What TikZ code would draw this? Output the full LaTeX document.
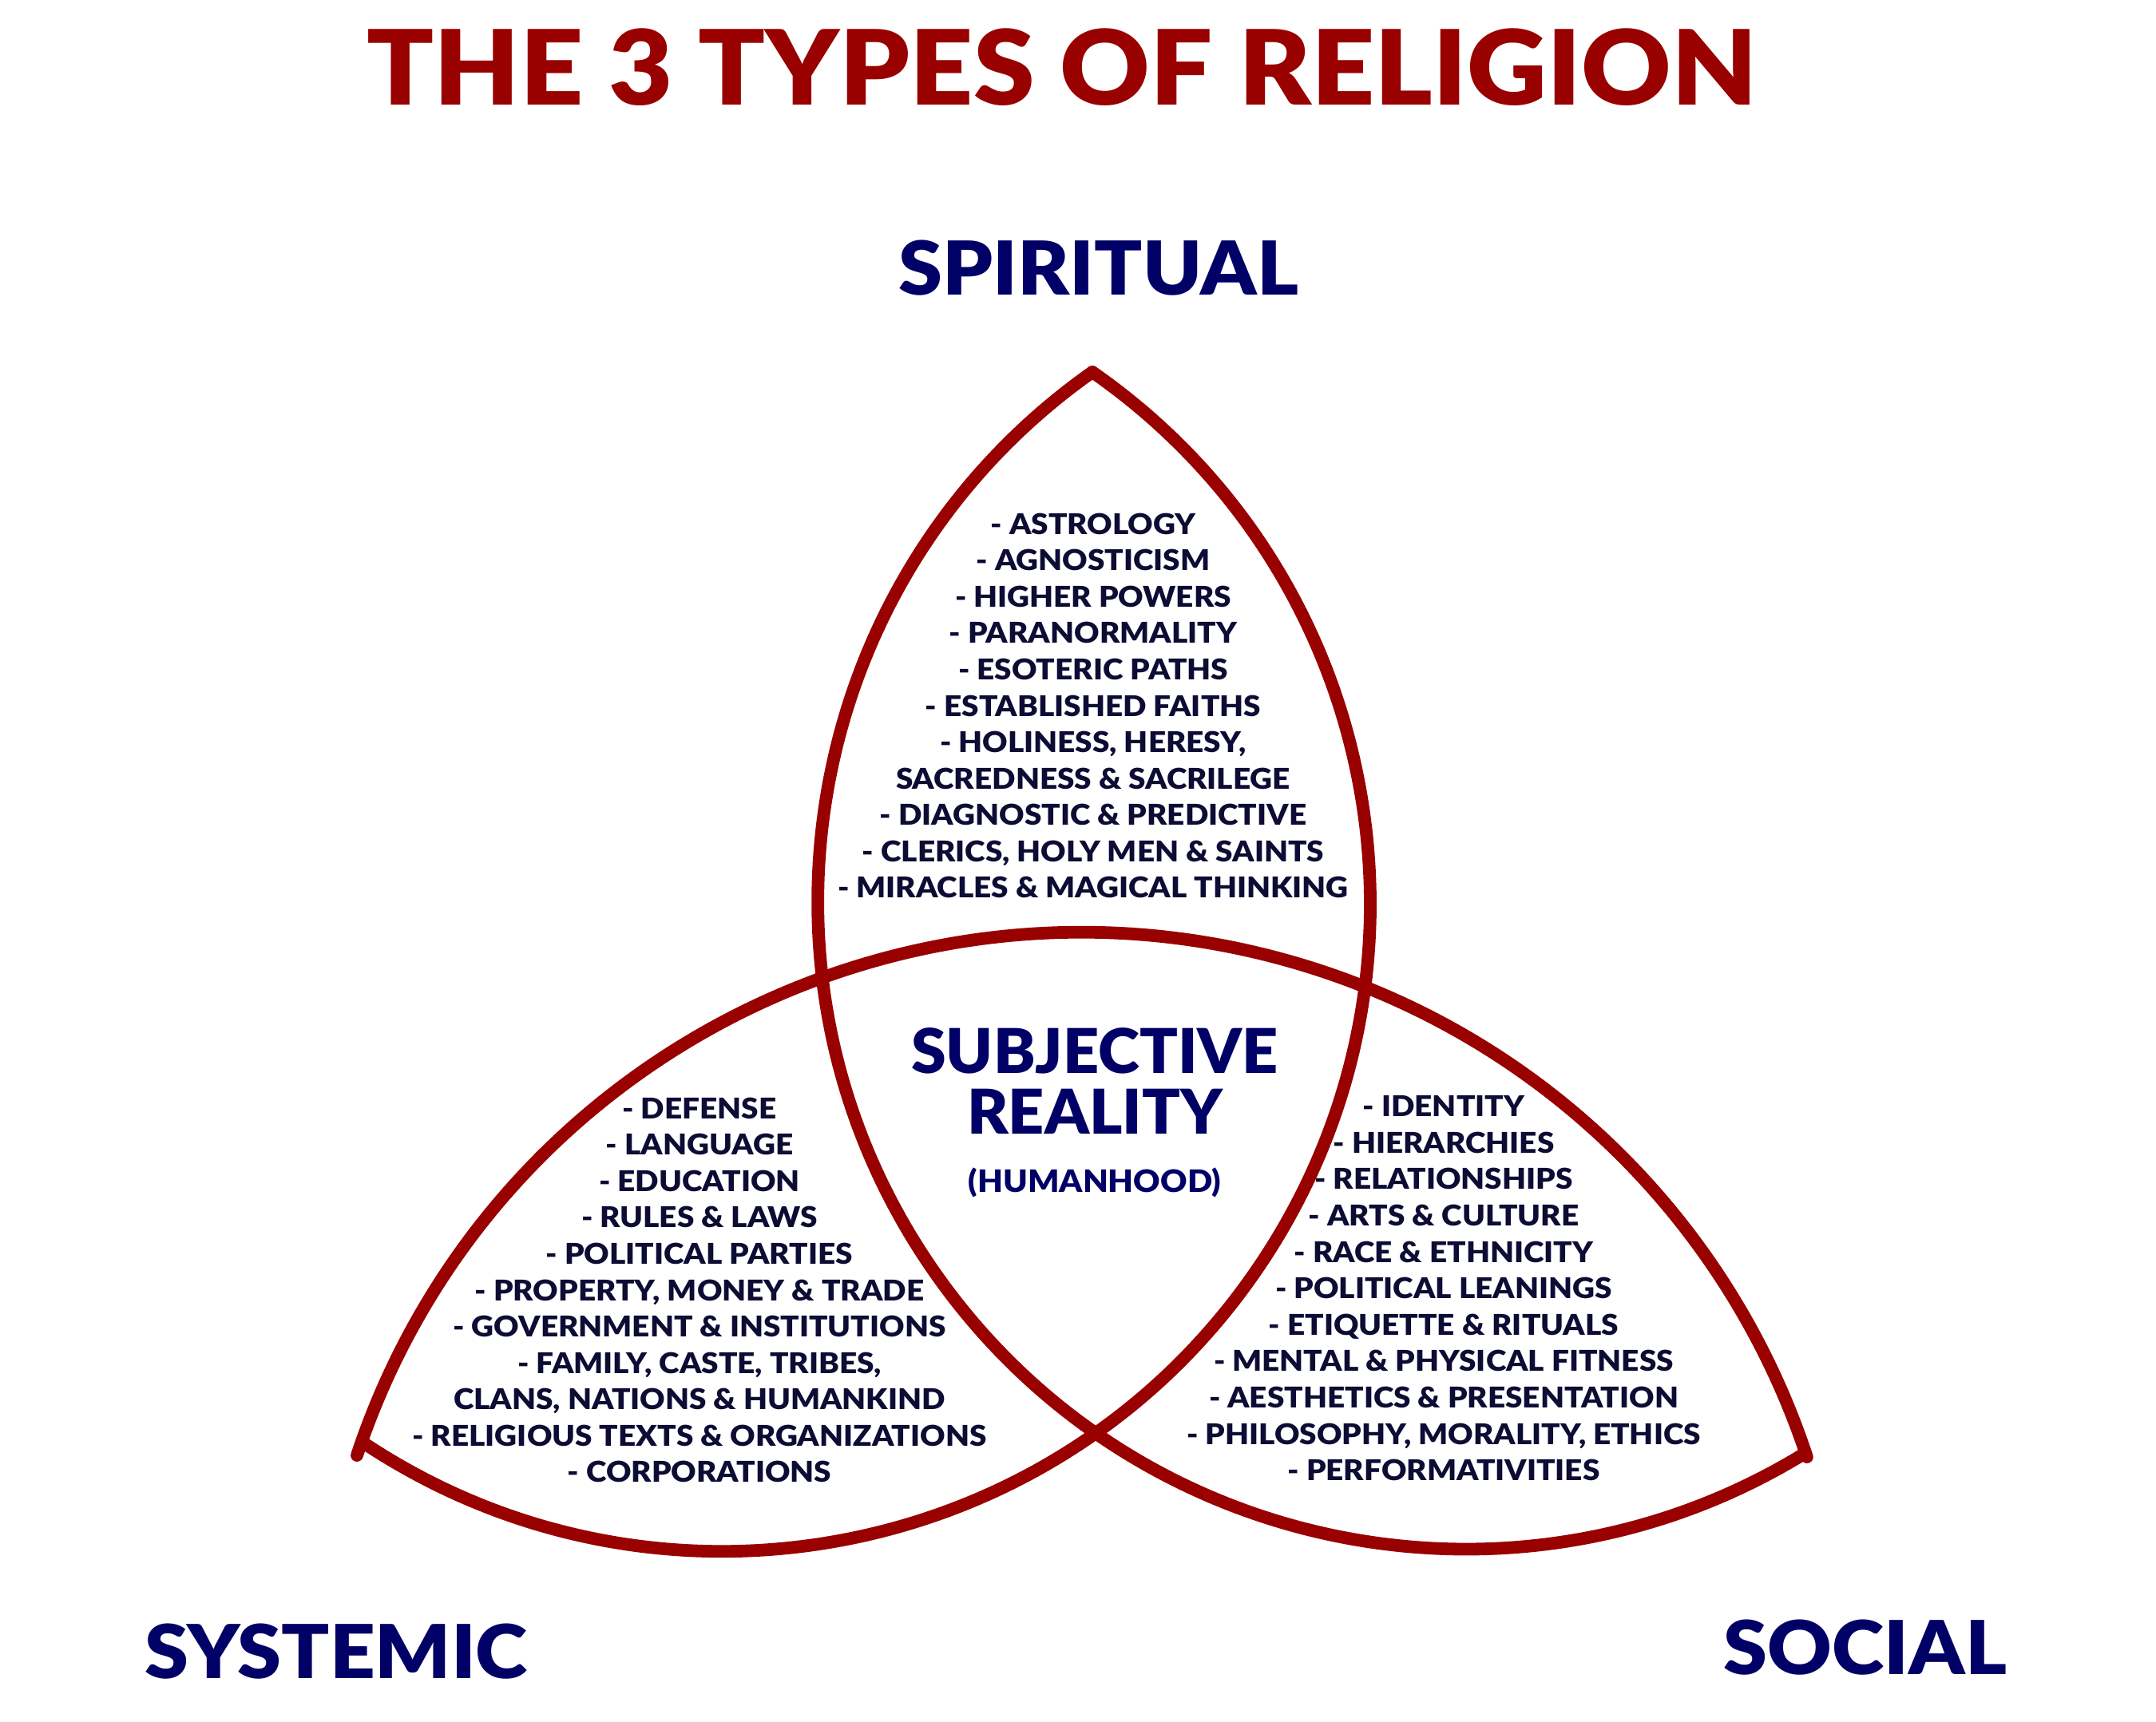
\documentclass[tikz,border=0pt]{standalone}
\usepackage{fontspec}
\setmainfont{Lato}[BoldFont={Lato Bold}]
\newfontfamily\heavy{Lato Black}[FakeStretch=1.065]
\newfontfamily\core{Lato Black}[FakeStretch=1.02]
\newfontfamily\listfont{Lato Black}[FakeStretch=1.08]

\definecolor{triquetra}{RGB}{153,0,0}
\definecolor{headnavy}{RGB}{0,0,102}
\definecolor{listnavy}{RGB}{12,12,52}

\begin{document}
\begin{tikzpicture}[
  lobe/.style={draw=triquetra, line width=4.5pt, line join=round, line cap=round},
  heading/.style={font=\heavy\fontsize{26.5}{30}\selectfont, text=headnavy, inner sep=0pt, anchor=base},
  itemlist/.style={font=\listfont\fontsize{10.2}{12.97}\selectfont, text=listnavy, align=center, inner sep=0pt, anchor=north}
]
\useasboundingbox (0,0) rectangle (27,21.56);

% Tips of the three lobes
\coordinate (spirittip) at (13.68,16.90);
\coordinate (systemtip) at (4.47,3.33);
\coordinate (socialtip) at (22.63,3.31);

% Triquetra
\draw [lobe] (spirittip) arc[start angle=125.19, end angle=301.55, radius=8.114];
\draw [lobe] (spirittip) arc[start angle=55.17, end angle=-123.51, radius=8.113];
\draw [lobe] (systemtip) arc[start angle=161.64, end angle=18.23, radius=9.563];

% Headings
\node (title) [font=\heavy\fontsize{37}{40}\selectfont, text=triquetra, inner sep=0pt, anchor=base] at (13.30,20.24) {THE 3 TYPES OF RELIGION};
\node (spiritual) [heading] at (13.76,17.86) {SPIRITUAL};
\node (systemic) [heading] at (4.21,0.54) {SYSTEMIC};
\node (social) [heading] at (23.36,0.59) {SOCIAL};

% Centre
\node (reality) [font=\core\fontsize{22}{21.6}\selectfont, text=headnavy, align=center, inner sep=0pt, anchor=north] at (13.71,8.69) {SUBJECTIVE\\REALITY};
\node (humanhood) [font=\heavy\fontsize{11}{13}\selectfont, text=headnavy, inner sep=0pt, anchor=base] at (13.71,6.63) {(HUMANHOOD)};

% Lists
\node (spiritlist) [itemlist] at (13.69,15.14) {- ASTROLOGY\\
- AGNOSTICISM\\
- HIGHER POWERS\\
- PARANORMALITY\\
- ESOTERIC PATHS\\
- ESTABLISHED FAITHS\\
- HOLINESS, HERESY,\\
SACREDNESS \& SACRILEGE\\
- DIAGNOSTIC \& PREDICTIVE\\
- CLERICS, HOLY MEN \& SAINTS\\
- MIRACLES \& MAGICAL THINKING};
\node (systemlist) [itemlist] at (8.76,7.82) {- DEFENSE\\
- LANGUAGE\\
- EDUCATION\\
- RULES \& LAWS\\
- POLITICAL PARTIES\\
- PROPERTY, MONEY \& TRADE\\
- GOVERNMENT \& INSTITUTIONS\\
- FAMILY, CASTE, TRIBES,\\
CLANS, NATIONS \& HUMANKIND\\
- RELIGIOUS TEXTS \& ORGANIZATIONS\\
- CORPORATIONS};
\node (sociallist) [itemlist] at (18.08,7.84) {- IDENTITY\\
- HIERARCHIES\\
- RELATIONSHIPS\\
- ARTS \& CULTURE\\
- RACE \& ETHNICITY\\
- POLITICAL LEANINGS\\
- ETIQUETTE \& RITUALS\\
- MENTAL \& PHYSICAL FITNESS\\
- AESTHETICS \& PRESENTATION\\
- PHILOSOPHY, MORALITY, ETHICS\\
- PERFORMATIVITIES};

\end{tikzpicture}
\end{document}
